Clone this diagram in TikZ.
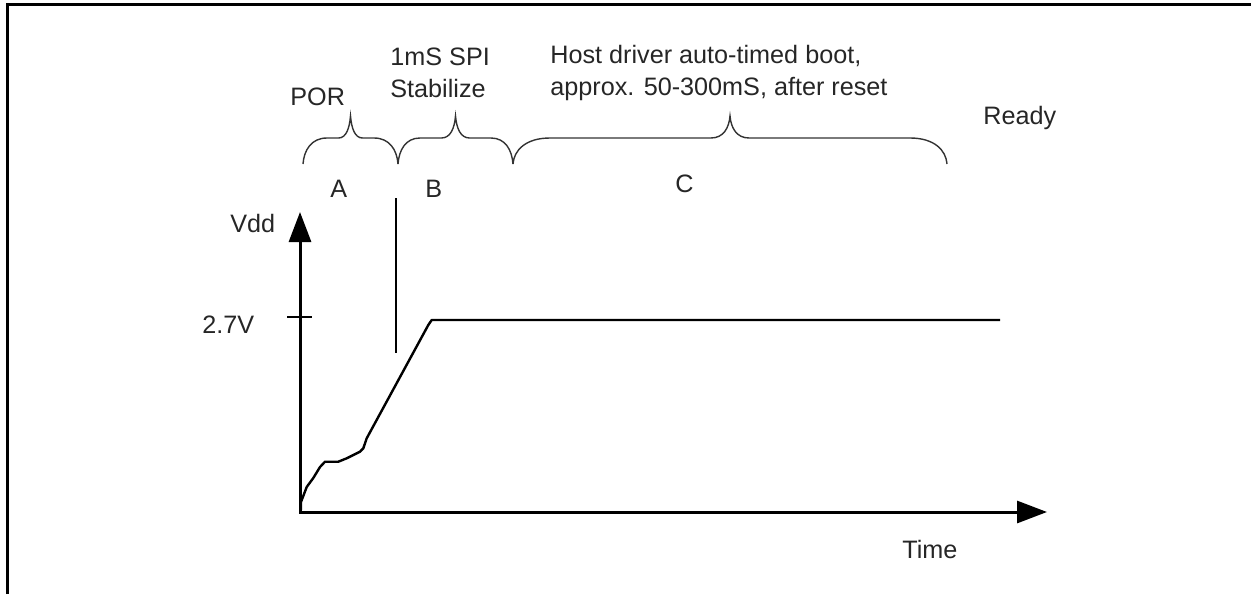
\documentclass[tikz,border=0pt]{standalone}
\usepackage{fontspec}
\setmainfont{Liberation Sans}
\usetikzlibrary{arrows.meta}

\begin{document}
\begin{tikzpicture}[x=0.5pt, y=-0.5pt,
    lbl/.style={anchor=base west, inner sep=0pt, align=left, font=\fontsize{12.6}{16}\selectfont, text=black!85},
    axis/.style={line width=1.5pt, {Triangle[length=15pt, width=11pt]}-{Triangle[length=15pt, width=11pt]}},
    bracket/.style={line width=0.7pt, black!80},
    signal/.style={line width=1.2pt, line join=round}
]
    \useasboundingbox (0,0) rectangle (1251,594);
    \draw [line width=1.5pt] (7,594) -- (7,4.5) -- (1251,4.5); % Frame

    % Axes
    \coordinate (vtop) at (300,212);
    \coordinate (origin) at (300,512);
    \coordinate (ttip) at (1047,512);
    \draw [axis] (vtop) -- (origin) -- (ttip);
    \node [lbl] (vdd) at (230,232) {Vdd};
    \node [lbl] (time) at (902,558) {Time};
    \draw [line width=0.8pt] (287,317) -- (312,317); % 2.7V tick
    \node [lbl] (level) at (202,333) {2.7V};

    % Vdd ramp
    \draw [signal] (301,510) -- (301,502) -- (306.7,487) -- (313.3,478) -- (320,467) -- (325,461.7)
        -- (338.3,461.7) -- (346.7,458.3) -- (360,451.7) -- (363.3,448.3) -- (366.7,438.3)
        -- (428.3,325) -- (431.7,320) -- (1000,320);
    \draw [line width=0.8pt] (396,198) -- (396,353); % reset marker

    % Phase braces
    \foreach \xl/\xr/\ew/\tw in {303/398/24/12, 398/513/22/14, 513/947/37/19} {
        \pgfmathsetmacro\xm{(\xl+\xr)/2}
        \draw [bracket] (\xl,164) .. controls (\xl+1,150) and (\xl+\ew*0.35,138) .. (\xl+\ew,138)
            -- (\xm-\tw,138) .. controls (\xm-\tw*0.35,138) and (\xm-1,128) .. (\xm,116)
            .. controls (\xm+1,128) and (\xm+\tw*0.35,138) .. (\xm+\tw,138)
            -- (\xr-\ew,138) .. controls (\xr-\ew*0.35,138) and (\xr-1,150) .. (\xr,164);
    }
    \foreach \name/\x/\y in {A/330/197, B/425/197, C/675/192} {
        \node [lbl] (phase\name) at (\x,\y) {\name};
    }

    % Phase notes
    \node [lbl] (por) at (290,105) {POR};
    \node [lbl] (spi) at (390,97) {1mS SPI\\Stabilize};
    \node [lbl] (boot) at (550,95) {Host driver auto-timed boot,\\approx. 50-300mS, after reset};
    \node [lbl] (ready) at (983,124) {Ready};
\end{tikzpicture}
\end{document}
